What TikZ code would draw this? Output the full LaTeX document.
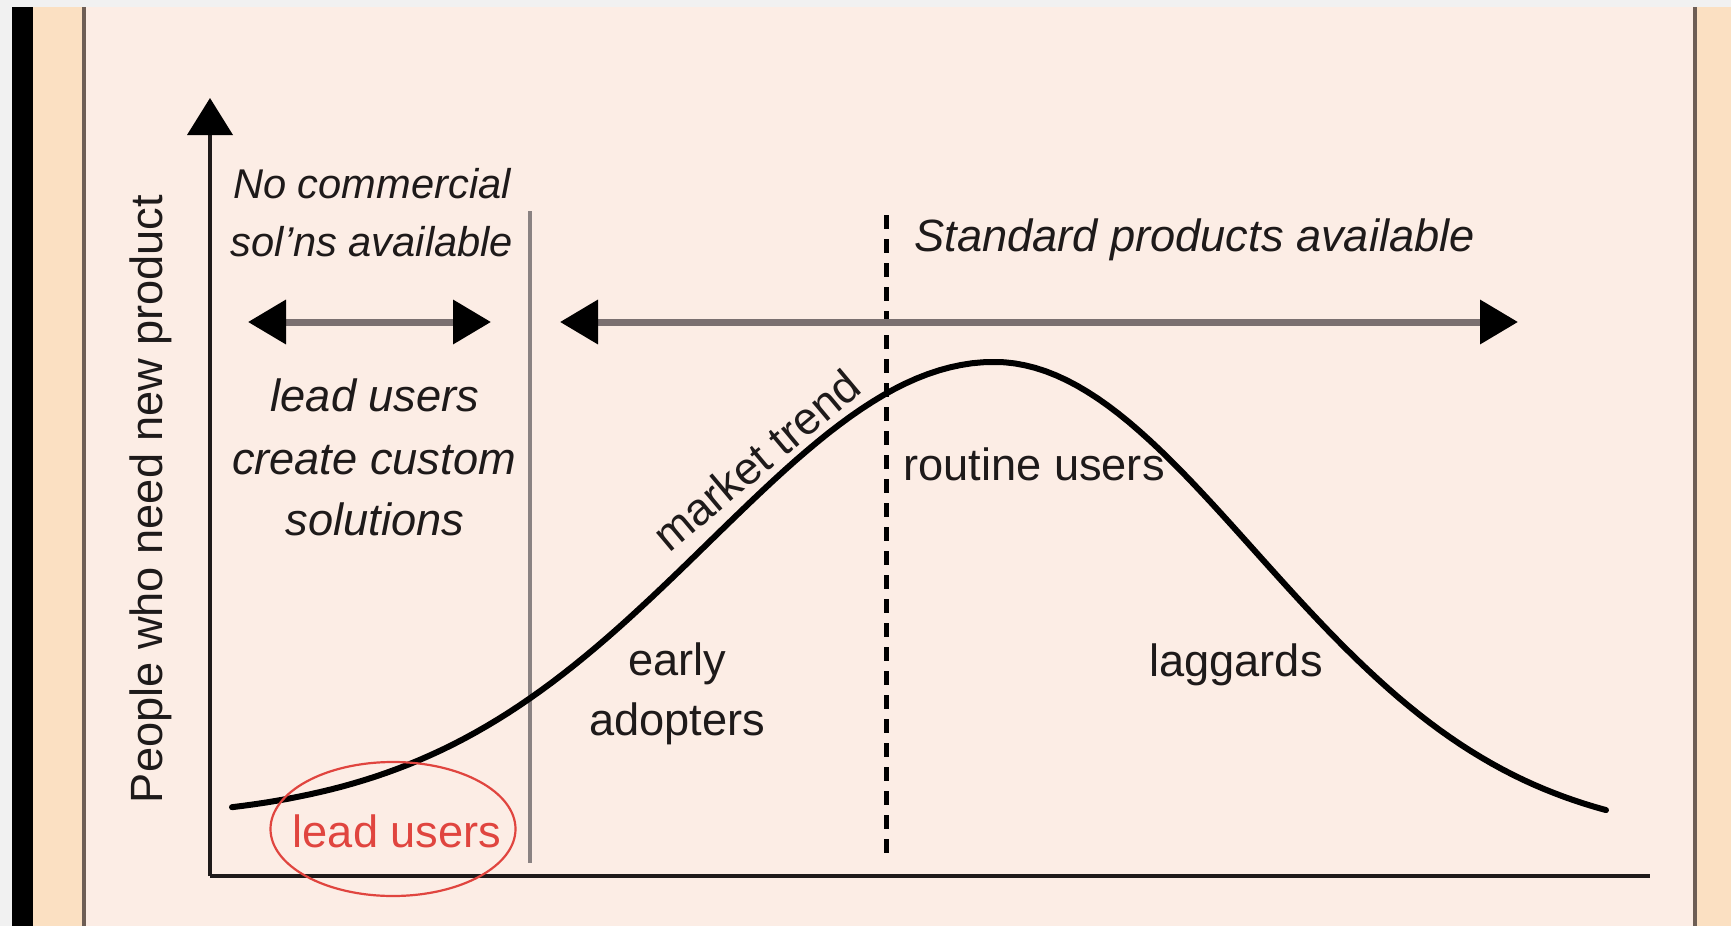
\documentclass[tikz,border=0pt]{standalone}
\usepackage{fontspec}
\setmainfont{Liberation Sans}
\usetikzlibrary{arrows.meta,shapes.geometric}
\definecolor{pagegray}{HTML}{F1F1F1}
\definecolor{bgpink}{HTML}{FCEDE5}
\definecolor{peach}{HTML}{FBE0C2}
\definecolor{framec}{HTML}{6E5E55}
\definecolor{shaft}{HTML}{7A7070}
\definecolor{divider}{HTML}{8A8282}
\definecolor{ink}{HTML}{1E1A1A}
\definecolor{leadred}{HTML}{E0453F}
\begin{document}
\begin{tikzpicture}[x=0.5pt,y=-0.5pt,
  lbl/.style={text=ink, inner sep=0pt, font=\fontsize{22.6}{27}\selectfont},
  ilbl/.style={lbl, font=\fontsize{22.6}{27}\selectfont\itshape},
  slbl/.style={lbl, font=\fontsize{20.8}{25}\selectfont\itshape},
  axisline/.style={draw=ink, line width=2pt},
  span/.style={draw=shaft, line width=3.5pt,
    {Triangle[length=19pt,width=21.5pt,color=black,fill=black]}-{Triangle[length=19pt,width=21.5pt,color=black,fill=black]}},
  dividerline/.style={draw=divider, line width=2.2pt},
  dashline/.style={draw=black, line width=2.5pt, dash pattern=on 7pt off 5pt},
  curveline/.style={draw=black, line width=3pt, line cap=round},
  ringline/.style={draw=leadred, line width=1.1pt}
]
\useasboundingbox (0,0) rectangle (1731,926);
% frame
\fill[pagegray] (0,0) rectangle (1731,926);
\fill[black] (12,7) rectangle (33,926);
\fill[peach] (33,7) rectangle (1731,926);
\fill[bgpink] (86,7) rectangle (1693,926);
\draw[framec, line width=2pt] (84,7) -- (84,926);
\draw[framec, line width=2pt] (1695,7) -- (1695,926);

% axes
\coordinate (O) at (210,876);
\coordinate (Ytop) at (210,98);
\coordinate (Xend) at (1650,876);
\draw[axisline, -{Triangle[length=18.5pt,width=22.5pt,color=black,fill=black]}] (O) -- (Ytop);
\draw[axisline] (O) -- (Xend);

% divider and dashed line
\coordinate (Dtop) at (530,211);
\coordinate (Dbot) at (530,863);
\draw[dividerline] (Dtop) -- (Dbot);
\coordinate (Stop) at (886,215);
\coordinate (Sbot) at (886,856);
\draw[dashline] (Stop) -- (Sbot);

% span arrows
\coordinate (LA1) at (248,322);
\coordinate (LA2) at (491,322);
\coordinate (RA1) at (560,322);
\coordinate (RA2) at (1518,322);
\draw[span] (LA1) -- (LA2);
\draw[span] (RA1) -- (RA2);

% curve
\draw[curveline] plot[domain=232:994,samples=70] (\x,{820-458*exp(-0.5*((\x-994)/285)^2)})
  -- plot[domain=994:1606,samples=60] (\x,{840-478*exp(-0.5*((\x-994)/260)^2)});

% labels
\node[lbl, rotate=90] (ylab) at (151,499) {People who need new product};
\node[slbl, anchor=base] (nc1) at (372,198) {No commercial};
\node[slbl, anchor=base] (nc2) at (372,256) {sol'ns available};
\node[ilbl, anchor=base] (lu1) at (375,411) {lead users};
\node[ilbl, anchor=base] (lu2) at (374,474) {create custom};
\node[ilbl, anchor=base] (lu3) at (375,535) {solutions};
\node[ilbl, anchor=base west] (std) at (914,251) {Standard products available};
\node[lbl, rotate=40] (mt) at (756,460) {market trend};
\node[lbl, anchor=base west] (ru) at (903,480) {routine users};
\node[lbl, anchor=base] (ea1) at (677,675) {early};
\node[lbl, anchor=base] (ea2) at (677,735) {adopters};
\node[lbl, anchor=base] (lag) at (1236,676) {laggards};
\node[lbl, text=leadred, anchor=base] (lead) at (397,847) {lead users};
\draw[ringline] (393,829) ellipse [x radius=122.5, y radius=67];
\end{tikzpicture}
\end{document}
